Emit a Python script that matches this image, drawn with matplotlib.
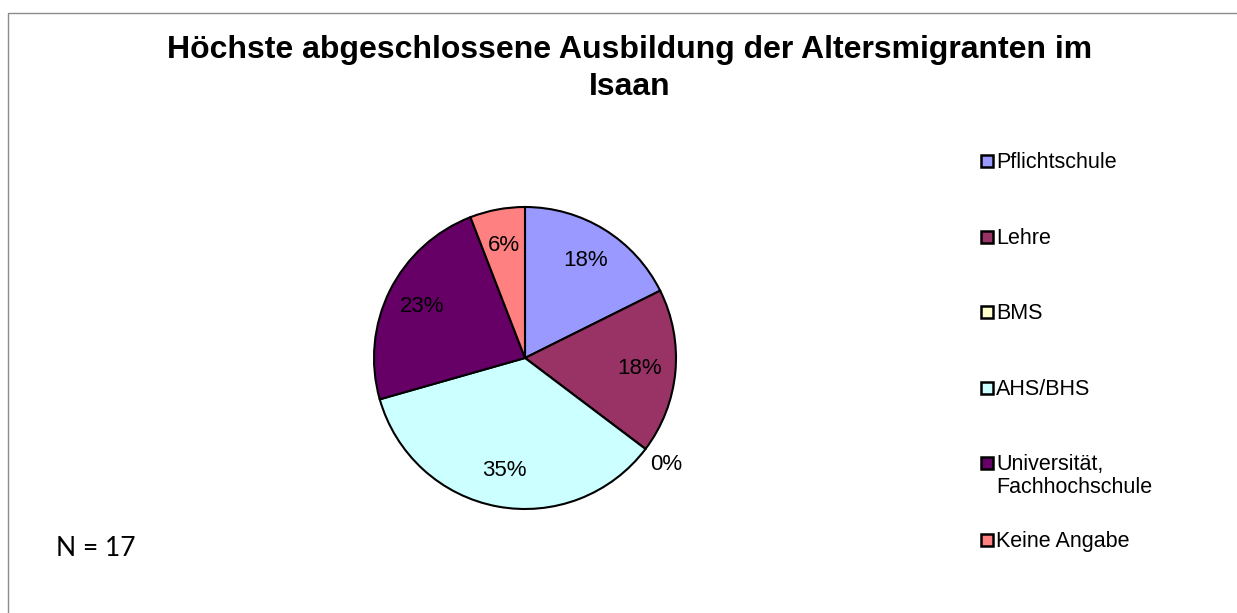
import numpy as np
from matplotlib import pyplot as plt
from matplotlib.patches import Rectangle

categories = ["Pflichtschule", "Lehre", "BMS", "AHS/BHS",
              "Universität,\nFachhochschule", "Keine Angabe"]
counts = [3, 3, 0, 6, 4, 1]
pct_labels = ["18%", "18%", "0%", "35%", "23%", "6%"]
colors = ["#9999FF", "#993366", "#FFFFCC", "#CCFFFF", "#660066", "#FF8080"]

plt.rcParams['font.family'] = ['Liberation Sans', 'DejaVu Sans']

W, H = 1237, 613
fig = plt.figure(figsize=(W/100, H/100), dpi=100)

# outer chart border (only top/left visible)
fig.add_artist(Rectangle((8/W, -0.1), 1.2, (H-13)/H + 0.1, fill=False,
                         edgecolor="#8c8c8c", lw=1, transform=fig.transFigure))

cx, cy, r = 525, 358, 151
ax = fig.add_axes([(cx-r)/W, (H-cy-r)/H, 2*r/W, 2*r/H])
wedges, _ = ax.pie(counts, colors=colors, startangle=90, counterclock=False,
                   wedgeprops=dict(edgecolor="black", linewidth=1.5))
ax.set_xlim(-1, 1)
ax.set_ylim(-1, 1)
ax.set_aspect("equal")
ax.axis("off")

for w, lab, n in zip(wedges, pct_labels, counts):
    ang = np.deg2rad((w.theta1 + w.theta2) / 2)
    d = 1.17 if n == 0 else 0.76
    ax.text(d*np.cos(ang), d*np.sin(ang), lab, ha="center", va="center",
            fontsize=16, clip_on=False)

fig.text(630/W, 1-50/H, "Höchste abgeschlossene Ausbildung der Altersmigranten im",
         ha="center", va="center", fontsize=23, fontweight="bold")
fig.text(630/W, 1-87/H, "Isaan",
         ha="center", va="center", fontsize=23, fontweight="bold")
fig.text(96/W, 1-548/H, "N = 17", ha="center", va="center", fontsize=19,
         family=["Lato", "DejaVu Sans"])

# legend
ys = [161, 237, 312, 388, 463, 540]
for y, lab, c in zip(ys, categories, colors):
    fig.add_artist(Rectangle((981/W, 1-(y+6)/H), 12/W, 12/H, facecolor=c,
                             edgecolor="black", lw=1.8, transform=fig.transFigure))
    fig.text(996/W, 1-(y-9)/H, lab, ha="left", va="top", fontsize=15.5,
             linespacing=1.15)

plt.savefig("out.png", dpi=100)
